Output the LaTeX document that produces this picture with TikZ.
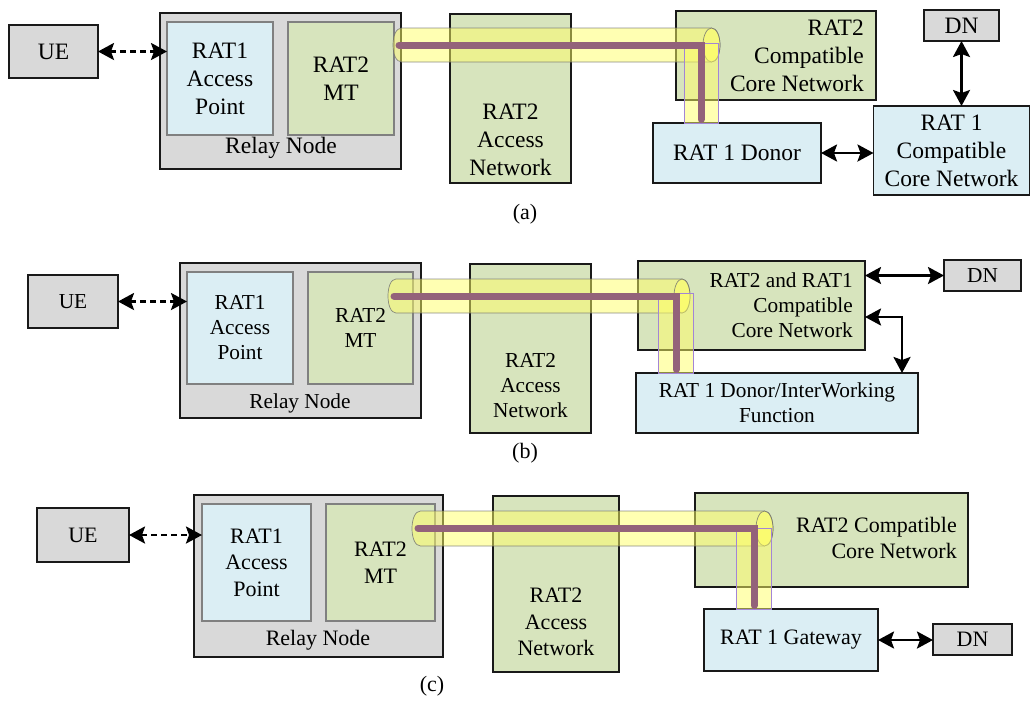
\documentclass[tikz,border=0pt]{standalone}
\usepackage{fontspec}
\setmainfont{Liberation Serif}
\usetikzlibrary{arrows.meta,calc}

\definecolor{boxgrey}{HTML}{D9D9D9}
\definecolor{ratblue}{HTML}{DBEEF4}
\definecolor{ratgreen}{HTML}{D7E4BD}
\definecolor{innerline}{HTML}{808080}
\definecolor{pipeviolet}{RGB}{147,98,122}
\definecolor{tubeyellow}{HTML}{FFFF66}
\definecolor{tubeline}{HTML}{A385D6}
\definecolor{tubeedge}{HTML}{707070}

\tikzset{
  box/.style={rectangle, draw=black!90, line width=1.8pt, inner sep=0pt, outer sep=0pt},
  greybox/.style={box, fill=boxgrey},
  bluebox/.style={box, fill=ratblue},
  greenbox/.style={box, fill=ratgreen},
  innerblue/.style={box, fill=ratblue, draw=innerline},
  innergreen/.style={box, fill=ratgreen, draw=innerline},
  fa/.style={font=\fontsize{23.5}{28}\selectfont, inner sep=0pt, align=center},
  fb/.style={font=\fontsize{21.3}{25}\selectfont, inner sep=0pt, align=center},
  fc/.style={font=\fontsize{22}{26.5}\selectfont, inner sep=0pt, align=center},
  caption/.style={font=\fontsize{22}{26}\selectfont, inner sep=0pt},
  link/.style={line width=2.6pt,
    {Stealth[length=16pt,width=17pt,inset=3pt]}-{Stealth[length=16pt,width=17pt,inset=3pt]}},
  wireless/.style={link, dash pattern=on 6pt off 4pt},
  tubebody/.style={fill=tubeyellow, fill opacity=0.5, draw=tubeedge, draw opacity=0.8, line width=0.7pt},
  riser/.style={fill=tubeyellow, fill opacity=0.5, draw=tubeline, line width=0.7pt},
  pipe/.style={pipeviolet, line width=7pt, line cap=round, shorten >=3.5pt},
}

% tunnel: left x, right face centre x, axis y, radius, face half-width
\newcommand\drawtube[5]{%
  \filldraw[tubebody] (#2,#3-#4) -- (#1+#5,#3-#4)
    .. controls (#1+#5-#5*4/3,#3-#4) and (#1+#5-#5*4/3,#3+#4) .. (#1+#5,#3+#4)
    -- (#2,#3+#4)
    .. controls (#2+#5*4/3,#3+#4) and (#2+#5*4/3,#3-#4) .. (#2,#3-#4) -- cycle;
  \filldraw[tubebody] (#2,#3) ellipse [x radius=#5pt, y radius=#4pt];
}

\begin{document}
\begin{tikzpicture}[x=1pt,y=-1pt]
\useasboundingbox (0,0) rectangle (1032,702);

% ---------------- (a) ----------------
\node[greybox, minimum width=89pt, minimum height=53pt, fa] (UEa) at (53.5,51.5) {UE};
\node[greybox, minimum width=241pt, minimum height=156pt] (RNa) at (280.5,91) {};
\node[innerblue, minimum width=106pt, minimum height=113pt, fa] (APa) at (220,78.5) {RAT1\\Access\\Point};
\node[innergreen, minimum width=106pt, minimum height=113pt, fa] (MTa) at (341,78.5) {RAT2\\MT};
\node[fa] (RNla) at (281,148) {Relay Node};
\node[greenbox, minimum width=121pt, minimum height=169pt] (ANa) at (510.5,98.5) {};
\node[fa] (ANla) at (510.5,140) {RAT2\\Access\\Network};
\node[greenbox, minimum width=200pt, minimum height=89pt] (CNa) at (776,55.5) {};
\node[fa, align=right, anchor=east] (CNla) at (864,55.5) {RAT2\\Compatible\\Core Network};
\node[greybox, minimum width=75pt, minimum height=31pt, fa] (DNa) at (961.5,25.5) {DN};
\node[bluebox, minimum width=156pt, minimum height=89pt, fa] (C1a) at (951.5,150.5) {RAT 1\\Compatible\\Core Network};
\node[bluebox, minimum width=168pt, minimum height=60pt, fa] (DOa) at (737,153) {RAT 1 Donor};

\drawtube{393}{711.5}{45}{17}{8.5}
\filldraw[riser] (684,43) rectangle (718,123);
\coordinate (pa0) at (399,45);
\coordinate (pa1) at (701,45);
\draw[pipe] (pa0) -- (pa1) -- (pa1 |- DOa.north);

\draw[wireless] (UEa.east) -- (UEa.east -| APa.west);
\draw[link] (DNa.south) -- (DNa.south |- C1a.north);
\draw[link] (DOa.east) -- (DOa.east -| C1a.west);
\node[caption] (capa) at (525,214) {(a)};

% ---------------- (b) ----------------
\node[greybox, minimum width=90pt, minimum height=53pt, fb] (UEb) at (73,301.5) {UE};
\node[greybox, minimum width=241pt, minimum height=155pt] (RNb) at (300.5,340.5) {};
\node[innerblue, minimum width=106pt, minimum height=112pt, fb] (APb) at (240,328) {RAT1\\Access\\Point};
\node[innergreen, minimum width=105pt, minimum height=112pt, fb] (MTb) at (360.5,328) {RAT2\\MT};
\node[fb] (RNlb) at (300,403) {Relay Node};
\node[greenbox, minimum width=121pt, minimum height=169pt] (ANb) at (530.5,348.5) {};
\node[fb] (ANlb) at (530.5,386) {RAT2\\Access\\Network};
\node[greenbox, minimum width=227pt, minimum height=89pt] (CNb) at (751.5,305.5) {};
\node[fb, align=right, anchor=east] (CNlb) at (853,305) {RAT2 and RAT1\\Compatible\\Core Network};
\node[bluebox, minimum width=282pt, minimum height=60pt, fb] (DOb) at (777,403) {RAT 1 Donor/InterWorking\\Function};
\node[greybox, minimum width=77pt, minimum height=31pt, fb] (DNb) at (982.5,275.5) {DN};

\drawtube{388}{682}{296}{17}{8}
\filldraw[riser] (658,293) rectangle (693,373);
\coordinate (pb0) at (394,296);
\coordinate (pb1) at (676,296);
\draw[pipe] (pb0) -- (pb1) -- (pb1 |- DOb.north);

\draw[wireless] (UEb.east) -- (UEb.east -| APb.west);
\draw[link] (DNb.west -| CNb.east) -- (DNb.west);
\draw[link] ([yshift=-11.5pt]CNb.east) -| ([xshift=-16pt]DOb.north east);
\node[caption] (capb) at (525,453) {(b)};

% ---------------- (c) ----------------
\node[greybox, minimum width=92pt, minimum height=54pt, fc] (UEc) at (83,535) {UE};
\node[greybox, minimum width=249pt, minimum height=162pt] (RNc) at (318.5,576) {};
\node[innerblue, minimum width=109pt, minimum height=117pt, fc] (APc) at (256.5,562.5) {RAT1\\Access\\Point};
\node[innergreen, minimum width=109pt, minimum height=117pt, fc] (MTc) at (380.5,562.5) {RAT2\\MT};
\node[fc] (RNlc) at (318,640) {Relay Node};
\node[greenbox, minimum width=126pt, minimum height=176pt] (ANc) at (556,584) {};
\node[fc] (ANlc) at (556,622) {RAT2\\Access\\Network};
\node[greenbox, minimum width=273pt, minimum height=94pt] (CNc) at (831.5,540) {};
\node[fc, align=right, anchor=east] (CNlc) at (957,538) {RAT2 Compatible\\Core Network};
\node[bluebox, minimum width=174pt, minimum height=62pt, fc] (GWc) at (791,640) {RAT 1 Gateway};
\node[greybox, minimum width=79pt, minimum height=31pt, fc] (DNc) at (972.5,639.5) {DN};

\drawtube{412}{764.5}{528.5}{17.5}{8.5}
\filldraw[riser] (736,528) rectangle (771,609);
\coordinate (pc0) at (418,528);
\coordinate (pc1) at (754,528);
\draw[pipe] (pc0) -- (pc1) -- (pc1 |- GWc.north);

\draw[wireless] (UEc.east) -- (UEc.east -| APc.west);
\draw[link] (GWc.east) -- (GWc.east -| DNc.west);
\node[caption] (capc) at (432,686) {(c)};
\end{tikzpicture}
\end{document}
